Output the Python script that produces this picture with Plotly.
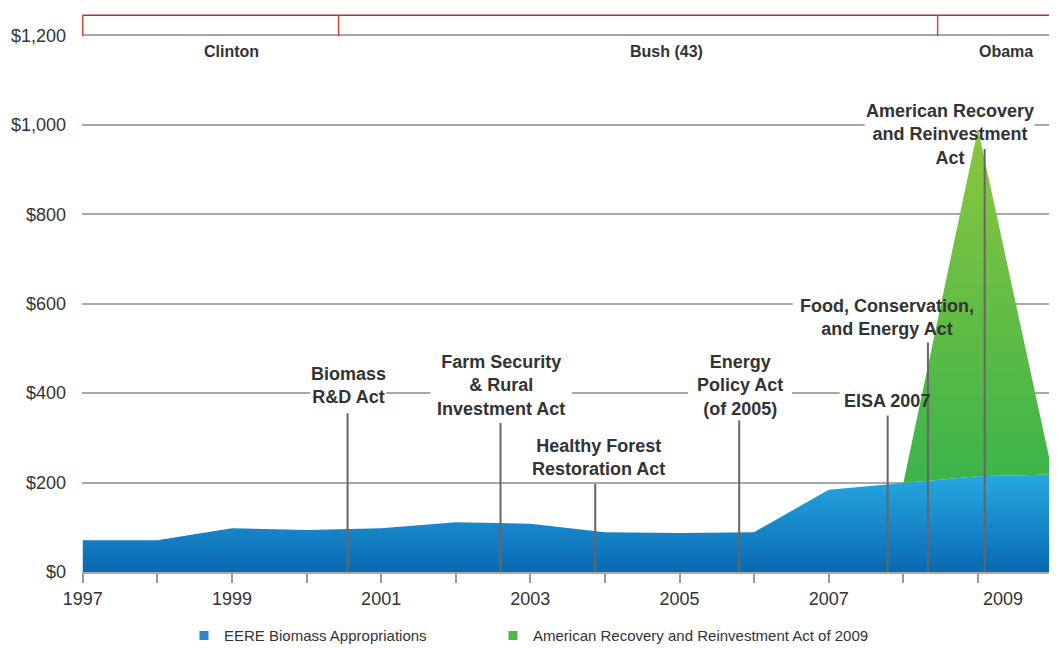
import plotly.graph_objects as go

# ---------------- data ----------------
years = [1997, 1998, 1999, 2000, 2001, 2002, 2003, 2004, 2005, 2006, 2007, 2008, 2009, 2010]
eere_biomass = [71, 71, 98, 94, 98, 111, 108, 89, 87, 89, 184, 199, 214, 218]

arra_years = [2008, 2009, 2010]
arra_values = [0, 777, 3]

x_tick_years = list(range(1997, 2011))
x_tick_labels = ["1997", "", "1999", "", "2001", "", "2003", "", "2005", "", "2007", "",
                 "\u00a0" * 10 + "2009", ""]
y_tick_vals = [0, 200, 400, 600, 800, 1000, 1200]
y_tick_labels = ["$0", "$200", "$400", "$600", "$800", "$1,000", "$1,200"]

act_labels = [
    "Biomass<br>R&D Act",
    "Farm Security<br>& Rural<br>Investment Act",
    "Healthy Forest<br>Restoration Act",
    "Energy<br>Policy Act<br>(of 2005)",
    "EISA 2007",
    "Food, Conservation,<br>and Energy Act",
    "American Recovery<br>and Reinvestment<br>Act",
]
act_line_x = [2000.55, 2002.6, 2003.87, 2005.8, 2007.79, 2008.33, 2009.09]
act_line_top = [355, 333, 197, 339, 350, 513, 946]
act_label_x = [2000.56, 2002.61, 2003.91, 2005.81, 2007.78, 2007.78, 2008.62]
act_label_y = [416, 418, 257, 416, 382, 568, 979]

presidents = ["Clinton", "Bush (43)", "Obama"]
term_starts = [1997, 2000.43, 2008.46]
president_label_x = [1999.0, 2004.83, 2009.38]
president_label_y = 1164
band_top = 1245
band_bottom = 1198

# ---------------- figure ----------------
FONT = "Arial, 'Liberation Sans', sans-serif"
TXT = "#333333"
fig = go.Figure()

fig.add_trace(go.Scatter(
    x=years, y=eere_biomass, mode="lines", fill="tozeroy",
    line=dict(width=0, color="#1f8fd4"),
    fillgradient=dict(type="vertical", start=0, stop=220,
                      colorscale=[[0, "#0a69b2"], [1, "#27a9e2"]]),
    showlegend=False, hoverinfo="skip",
))

base = [eere_biomass[years.index(y)] for y in arra_years]
total = [b + a for b, a in zip(base, arra_values)]
fig.add_trace(go.Scatter(
    x=arra_years, y=base, mode="lines", line=dict(width=0, color="rgba(0,0,0,0)"),
    showlegend=False, hoverinfo="skip",
))
fig.add_trace(go.Scatter(
    x=arra_years, y=total, mode="lines", fill="tonexty",
    line=dict(width=0, color="#5cb846"),
    fillgradient=dict(type="vertical", start=200, stop=990,
                      colorscale=[[0, "#3bb44a"], [1, "#8cc63f"]]),
    showlegend=False, hoverinfo="skip",
))

# act marker lines
lx, ly = [], []
for xv, top in zip(act_line_x, act_line_top):
    lx += [xv, xv, None]
    ly += [0, top, None]
fig.add_trace(go.Scatter(x=lx, y=ly, mode="lines", line=dict(color="#666666", width=2),
                         showlegend=False, hoverinfo="skip"))

# legend entries (two separate legends so each can be placed independently)
fig.add_trace(go.Scatter(x=[None], y=[None], mode="markers",
                         marker=dict(symbol="square", size=9, color="#2a86cf"),
                         name="EERE Biomass Appropriations", legend="legend"))
fig.add_trace(go.Scatter(x=[None], y=[None], mode="markers",
                         marker=dict(symbol="square", size=9, color="#4db748"),
                         name="American Recovery and Reinvestment Act of 2009",
                         legend="legend2"))

shapes = []
annotations = []
# white gaps in gridlines behind act labels
for lab, xv, yv in zip(act_labels, act_label_x, act_label_y):
    lines = lab.split("<br>")
    w = max(len(s) for s in lines) * 9.4 + 10
    h = len(lines) * 22 + 2
    shapes.append(dict(type="rect", layer="between", xref="x", yref="y",
                       xsizemode="pixel", ysizemode="pixel", xanchor=xv, yanchor=yv,
                       x0=-w / 2, x1=w / 2, y0=-h / 2, y1=h / 2,
                       fillcolor="white", line=dict(width=0)))
    annotations.append(dict(x=xv, y=yv, xref="x", yref="y", text="<b>" + lab + "</b>",
                            showarrow=False, xanchor="center", yanchor="middle",
                            font=dict(family=FONT, size=18, color=TXT), align="center"))

# presidential band
shapes.append(dict(type="line", xref="x", yref="y", x0=term_starts[0], x1=2010.2,
                   y0=band_top, y1=band_top, line=dict(color="#c9252c", width=1.5)))
for ts in term_starts:
    shapes.append(dict(type="line", xref="x", yref="y", x0=ts, x1=ts,
                       y0=band_bottom, y1=band_top, line=dict(color="#d0463c", width=1.5)))
for name, xv in zip(presidents, president_label_x):
    annotations.append(dict(x=xv, y=president_label_y, xref="x", yref="y",
                            text="<b>" + name + "</b>", showarrow=False,
                            font=dict(family=FONT, size=16, color=TXT)))

legend_common = dict(orientation="h", y=-0.114, xanchor="left", yanchor="middle",
                     font=dict(family=FONT, size=15, color=TXT), itemwidth=30,
                     bgcolor="rgba(0,0,0,0)")

fig.update_layout(
    width=1049, height=640,
    margin=dict(l=74, r=0, t=5, b=76, autoexpand=False),
    paper_bgcolor="white", plot_bgcolor="white",
    shapes=shapes, annotations=annotations,
    font=dict(family=FONT, color=TXT),
    legend=dict(x=0.1046, **legend_common),
    legend2=dict(x=0.4215, **legend_common),
    xaxis=dict(range=[1996.99, 2010.06], tickmode="array", tickvals=x_tick_years,
               ticktext=x_tick_labels, ticks="outside", ticklen=9, tickwidth=2,
               tickcolor="#9a9a9a", showgrid=False, zeroline=False,
               showline=True, linecolor="#a8a8a8", linewidth=2, automargin=False,
               tickfont=dict(family=FONT, size=18, color=TXT)),
    yaxis=dict(range=[0, 1250], tickmode="array", tickvals=y_tick_vals,
               ticktext=y_tick_labels, showgrid=True, gridcolor="#a8a8a8", gridwidth=2,
               zeroline=False, ticks="", ticklabelstandoff=15, automargin=False,
               tickfont=dict(family=FONT, size=18, color=TXT)),
    hovermode=False,
)

fig.write_html("out.html")
